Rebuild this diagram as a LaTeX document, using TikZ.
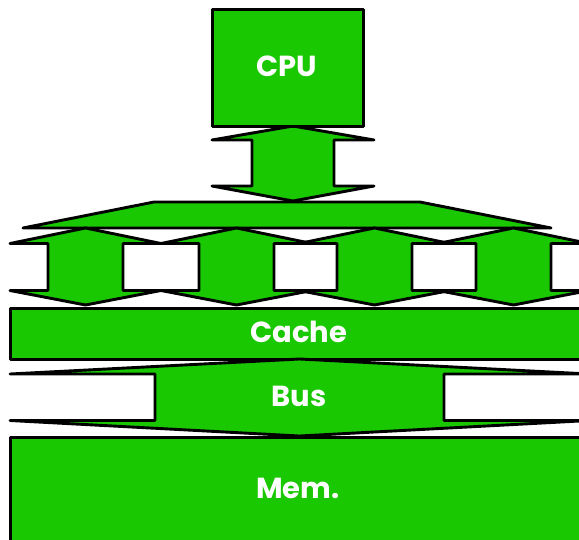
\documentclass[tikz,border=0pt]{standalone}
\usepackage{fontspec}
\setsansfont{Poppins}
\definecolor{cgreen}{RGB}{25,200,0}
\newcommand\vdarrow[7]{% cx, ytop, ywing1, ywing2, ybot, head half-width, shaft half-width
  \draw[blk] (#1,#2) -- ({#1+#6},#3) -- ({#1+#7},#3) -- ({#1+#7},#4) -- ({#1+#6},#4)
    -- (#1,#5) -- ({#1-#6},#4) -- ({#1-#7},#4) -- ({#1-#7},#3) -- ({#1-#6},#3) -- cycle;}
\begin{document}
\begin{tikzpicture}[x=1pt,y=-1pt,
  blk/.style={draw=black, line width=2.9pt, fill=cgreen, line join=round},
  lbl/.style={text=white, inner sep=0pt, font=\sffamily\bfseries\fontsize{29}{34}\selectfont}]
\useasboundingbox (0,0) rectangle (579,539);
\clip (0,0) rectangle (579,539);
% fan-out trapezoid
\draw[blk] (154,202) -- (420,202) -- (551,228) -- (23,228) -- cycle;
% CPU double arrow
\vdarrow{293}{126}{140}{186}{201}{81}{41}
% CPU box
\node[blk, anchor=north west, minimum width=151pt, minimum height=117pt, inner sep=0pt] (cpu) at (211,8) {};
\node[lbl] (cputxt) at (287,66) {CPU};
% small double arrows
\foreach \cx in {85.5,236.5,374.5,513.5}{
  \vdarrow{\cx}{228}{243.5}{290.5}{305}{75.5}{37.5}
}
% Cache
\node[blk, anchor=north west, minimum width=600pt, minimum height=51pt, inner sep=0pt] (cache) at (9,307) {};
\node[lbl] (cachetxt) at (299,332) {Cache};
% Bus double arrow
\vdarrow{299.5}{359}{374}{420.5}{436}{289.5}{144.5}
\node[lbl] (bustxt) at (299,396) {Bus};
% Memory
\node[blk, anchor=north west, minimum width=600pt, minimum height=130pt, inner sep=0pt] (mem) at (9,436) {};
\node[lbl] (memtxt) at (298,488) {Mem.};
\end{tikzpicture}
\end{document}
